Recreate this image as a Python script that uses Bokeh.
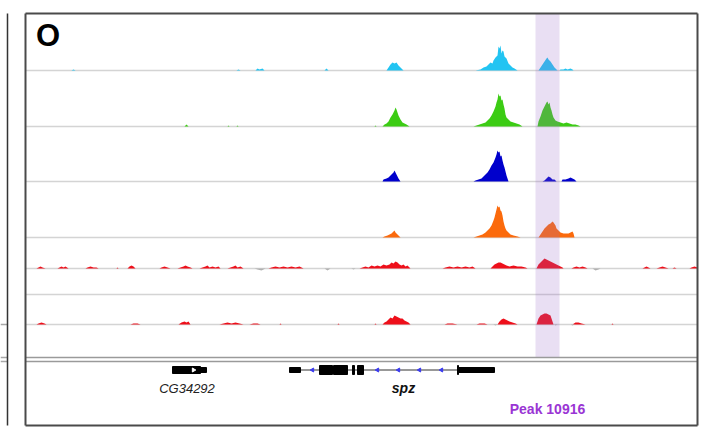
from bokeh.plotting import figure
from bokeh.models import Range1d
from bokeh.core.properties import value
from bokeh.embed import file_html
from bokeh.resources import INLINE

# ---------------- data (genomic bins of ~50 bp, 0..672) ----------------
track_colors = ["#22c4f2", "#3ccc14", "#0000cc", "#fb6a0c", "#ee0f1a", "#ee0f1a"]

cyan_signal = [
    (46, 0), (48, 1), (50, 0),
    (211, 0), (213, 1), (215, 0),
    (230, 0), (232, 2), (234, 1), (237, 2), (239, 0),
    (299, 0), (301, 2), (303, 0),
    (361, 0), (363, 3), (365, 6), (367, 8), (369, 7), (371, 8), (373, 5), (375, 3), (377, 1), (378, 0),
    (450, 0), (455, 1), (458, 3), (461, 4), (463, 6), (465, 8), (467, 7), (468, 10), (470, 13), (472, 15),
    (473, 24), (474, 22), (475, 25), (476, 17), (477, 20), (478, 19), (479, 14), (481, 12), (483, 7),
    (485, 5), (487, 3), (489, 2), (492, 0),
    (513, 0), (515, 3), (517, 6), (519, 9), (521, 12), (522, 13), (523, 11), (525, 9), (527, 6),
    (529, 3), (531, 1), (532, 0),
    (534, 0), (535, 1), (538, 1), (540, 2), (542, 1), (545, 2), (547, 1), (548, 0),
]

green_signal = [
    (159, 0), (161, 2), (163, 0),
    (202, 0), (203, 1), (204, 0),
    (211, 0), (212, 1), (213, 0),
    (349, 0), (350, 1), (351, 0),
    (357, 0), (359, 2), (361, 3), (363, 5), (365, 9), (367, 12), (368, 14), (369, 16), (370, 19),
    (371, 17), (372, 14), (373, 11), (375, 7), (377, 4), (379, 3), (381, 2), (384, 0),
    (448, 0), (451, 1), (454, 2), (457, 3), (460, 4), (462, 6), (464, 8), (466, 11), (468, 15), (470, 20),
    (471, 24), (472, 27), (473, 33), (474, 30), (475, 31), (476, 26), (477, 27), (478, 22), (479, 18),
    (480, 12), (481, 9), (483, 7), (485, 5), (488, 4), (491, 3), (494, 2), (497, 0),
    (512, 0), (513, 5), (515, 10), (517, 16), (519, 20), (520, 22), (521, 24), (522, 25), (523, 22),
    (524, 24), (525, 19), (526, 16), (527, 12), (528, 9), (530, 6), (532, 5), (535, 4), (538, 3),
    (541, 4), (544, 3), (547, 2), (550, 2), (553, 1), (555, 0),
]

blue_signal = [
    (357, 0), (358, 2), (361, 3), (363, 4), (365, 6), (367, 8), (368, 9), (369, 11), (370, 9),
    (371, 7), (373, 3), (375, 0),
    (448, 0), (450, 1), (453, 2), (456, 3), (458, 5), (460, 7), (462, 9), (464, 12), (466, 16),
    (468, 19), (470, 24), (471, 27), (472, 31), (473, 29), (474, 30), (475, 25), (476, 26), (477, 21),
    (478, 17), (479, 14), (480, 10), (481, 6), (482, 3), (483, 0),
    (517, 0), (519, 1), (521, 3), (523, 5), (525, 4), (527, 2), (529, 2), (531, 0),
    (536, 0), (537, 2), (540, 2), (543, 3), (545, 4), (547, 3), (549, 2), (551, 0),
]

orange_signal = [
    (357, 0), (359, 1), (362, 2), (364, 3), (366, 4), (368, 6), (369, 7), (370, 5), (372, 3), (374, 1), (375, 0),
    (448, 0), (451, 1), (454, 2), (457, 3), (460, 5), (462, 7), (464, 9), (466, 12), (468, 17), (469, 20),
    (470, 24), (471, 28), (472, 32), (473, 30), (474, 31), (475, 27), (476, 26), (477, 22), (478, 16),
    (479, 12), (480, 9), (481, 7), (483, 5), (485, 3), (488, 2), (492, 1), (495, 0),
    (513, 0), (515, 3), (517, 6), (519, 9), (521, 11), (523, 13), (525, 14), (527, 16), (528, 15),
    (530, 12), (531, 9), (533, 7), (535, 5), (538, 4), (541, 4), (543, 4), (545, 5), (547, 6), (548, 4), (549, 0),
]

red1_signal = [
    (11, 0), (13, 1), (15, 2), (17, 1), (20, 0),
    (32, 0), (34, 1), (36, 2), (38, 1), (40, 2), (43, 0),
    (60, 0), (62, 1), (65, 2), (68, 1), (71, 1), (73, 0),
    (91, 0), (92, 1), (93, 0),
    (102, 0), (104, 2), (106, 3), (108, 2), (110, 0),
    (134, 0), (136, 1), (139, 2), (142, 1), (145, 0),
    (152, 0), (155, 1), (158, 2), (160, 3), (162, 2), (165, 1), (167, 0),
    (174, 0), (177, 1), (180, 2), (182, 3), (184, 1), (187, 2), (190, 1), (193, 2), (195, 0),
    (202, 0), (205, 1), (208, 2), (210, 3), (212, 1), (215, 2), (218, 0),
    (243, 0), (246, 1), (250, 2), (254, 1), (258, 2), (262, 1), (266, 2), (270, 1), (274, 2), (278, 0),
    (334, 0), (337, 1), (340, 2), (343, 1), (346, 3), (349, 2), (352, 3), (355, 2), (358, 4), (361, 3),
    (364, 4), (366, 6), (368, 5), (370, 7), (372, 6), (374, 4), (376, 3), (378, 4), (380, 2), (382, 3), (385, 0),
    (417, 0), (420, 1), (424, 2), (428, 1), (432, 2), (436, 1), (440, 2), (444, 1), (447, 2), (450, 0),
    (465, 0), (467, 2), (469, 4), (471, 5), (473, 6), (475, 6), (477, 5), (479, 4), (481, 3), (484, 2),
    (488, 3), (492, 2), (496, 2), (500, 1), (502, 0),
    (511, 0), (513, 4), (515, 6), (517, 8), (519, 10), (521, 9), (523, 8), (525, 7), (527, 6), (529, 5),
    (531, 4), (533, 3), (535, 2), (537, 1), (538, 0),
    (546, 0), (548, 1), (551, 2), (554, 1), (557, 2), (560, 1), (562, 0),
    (617, 0), (619, 1), (621, 2), (623, 1), (625, 0),
    (631, 0), (634, 1), (637, 2), (640, 1), (643, 0),
    (647, 0), (649, 1), (651, 0),
    (664, 0), (666, 1), (669, 2), (672, 1),
]
red1_negative = [(229, 0), (232, -1), (236, -2), (240, 0), (299, 0), (302, -2), (305, 0),
                 (326, 0), (328, -1), (330, 0), (567, 0), (570, -2), (573, -1), (575, 0)]

red2_signal = [
    (11, 0), (13, 1), (16, 2), (19, 1), (21, 0),
    (105, 0), (108, 1), (112, 1), (115, 0),
    (153, 0), (156, 2), (159, 3), (161, 2), (163, 3), (165, 0),
    (194, 0), (198, 1), (202, 2), (206, 1), (210, 2), (214, 1), (218, 0),
    (224, 0), (228, 1), (232, 1), (235, 0),
    (254, 0), (255, 1), (256, 0),
    (312, 0), (313, 1), (314, 0),
    (349, 0), (350, 1), (351, 0),
    (357, 0), (359, 2), (361, 3), (363, 5), (365, 7), (367, 6), (369, 9), (371, 8), (373, 7), (375, 6),
    (377, 6), (379, 4), (381, 3), (383, 2), (385, 0),
    (419, 0), (422, 1), (427, 1), (432, 0),
    (451, 0), (454, 1), (459, 1), (462, 0),
    (472, 0), (474, 3), (476, 5), (478, 6), (480, 5), (482, 4), (484, 3), (487, 2), (490, 1), (492, 0),
    (511, 0), (513, 6), (515, 9), (517, 10), (519, 11), (521, 11), (523, 10), (525, 9), (527, 3), (528, 0),
    (547, 0), (550, 2), (553, 2), (556, 1), (560, 0),
    (586, 0), (587, 1), (588, 0),
]
red2_negative = [(468, 0), (470, -1), (472, 0), (529, 0), (530, -1), (532, 0), (545, 0), (547, -1), (549, 0)]

peak_region = (510, 534)
peak_label = "Peak 10916"
panel_label = "O"

# gene models: (start, end) in bins
cg34292_exons = [(147, 175)]
cg34292_utr = [(175, 181)]
spz_utr = [(264, 275), (433, 469)]
spz_exons = [(294, 307), (308, 322), (327, 329), (332, 338), (432, 433)]
spz_intron = (275, 433)
spz_strand_marks = [287, 352, 373, 394, 416]
gene_names = ["CG34292", "spz"]
gene_label_pos = [161.5, 378]

# ---------------- layout (screen rows) ----------------
baselines = [70, 126, 181, 237, 268, 324]
separators = [70, 126, 181, 237, 268, 294, 324]
PANEL_TOP, PANEL_BOTTOM, TRACK_BOTTOM = 13, 425, 357
GENE_Y = 369.5
X0, X1 = 0, 672
H = 427

p = figure(width=706, height=H, x_range=Range1d(-25, 681), y_range=Range1d(H, 0),
           output_backend="svg", toolbar_location=None, min_border=0,
           x_axis_location=None, y_axis_location=None)
p.grid.visible = False
p.outline_line_color = None
p.background_fill_color = "white"

# separator lines
p.multi_line(xs=[[X0, X1] for _ in separators], ys=[[s, s] for s in separators],
             line_color="#d4d4d4", line_width=1.5)

# signal tracks, each with its own value range
tracks = [cyan_signal, green_signal, blue_signal, orange_signal, red1_signal, red2_signal]
negs = [None, None, None, None, red1_negative, red2_negative]
for i, (sig, neg, b, col) in enumerate(zip(tracks, negs, baselines, track_colors)):
    name = f"t{i}"
    p.extra_y_ranges[name] = Range1d(start=b - H, end=b)
    xs = [a for a, _ in sig]
    ys = [v for _, v in sig]
    p.varea(x=xs, y1=[0] * len(xs), y2=ys, fill_color=col, y_range_name=name)
    if neg:
        nx = [a for a, _ in neg]
        ny = [v for _, v in neg]
        p.varea(x=nx, y1=[0] * len(nx), y2=ny, fill_color="#b0b0b0", y_range_name=name)

# highlight band
p.quad(left=[peak_region[0]], right=[peak_region[1]], top=[PANEL_TOP], bottom=[TRACK_BOTTOM],
       fill_color="#9a6fc8", fill_alpha=0.22, line_alpha=0)

# double separator above gene track
p.multi_line(xs=[[X0, X1], [X0, X1]], ys=[[357, 357], [361, 361]], line_color="#9a9a9a", line_width=1.5)
p.multi_line(xs=[[-25, -18], [-25, -18], [-25, -18]], ys=[[324, 324], [357, 357], [361, 361]],
             line_color="#a8a8a8", line_width=1.5)

# gene models
p.quad(left=[a for a, _ in cg34292_exons], right=[b for _, b in cg34292_exons],
       top=GENE_Y - 3.5, bottom=GENE_Y + 3.5, fill_color="black", line_color="black")
p.quad(left=[a for a, _ in cg34292_utr], right=[b for _, b in cg34292_utr],
       top=GENE_Y - 2.5, bottom=GENE_Y + 2.5, fill_color="black", line_color="black")
p.scatter(x=[168], y=[GENE_Y], marker="triangle", size=4, angle=-1.5708,
          fill_color="white", line_color="white")
p.segment(x0=[spz_intron[0]], x1=[spz_intron[1]], y0=[GENE_Y], y1=[GENE_Y], line_color="#333333", line_width=1)
p.quad(left=[a for a, _ in spz_utr], right=[b for _, b in spz_utr],
       top=GENE_Y - 2.5, bottom=GENE_Y + 2.5, fill_color="black", line_color="black")
p.quad(left=[a for a, _ in spz_exons], right=[b for _, b in spz_exons],
       top=GENE_Y - 4.5, bottom=GENE_Y + 4.5, fill_color="black", line_color="black")
p.scatter(x=spz_strand_marks, y=[GENE_Y] * len(spz_strand_marks), marker="triangle", size=4,
          angle=1.5708, fill_color="#3b3bf0", line_color="#3b3bf0")

# labels
p.text(x=[gene_label_pos[0]], y=[388], text=[gene_names[0]], text_font=value("Liberation Sans"),
       text_font_size="13px", text_font_style="italic", text_color="#222222",
       text_align="center", text_baseline="middle")
p.text(x=[gene_label_pos[1]], y=[387], text=[gene_names[1]], text_font=value("Liberation Sans"),
       text_font_size="14px", text_font_style="bold italic", text_color="#111111",
       text_align="center", text_baseline="middle")
p.text(x=[(peak_region[0] + peak_region[1]) / 2], y=[408.5], text=[peak_label],
       text_font=value("Liberation Sans"), text_font_size="14px", text_font_style="bold",
       text_color="#9a35d4", text_align="center", text_baseline="middle")
p.text(x=[22.5], y=[34.5], text=[panel_label], text_font=value("Liberation Sans"),
       text_font_size="31px", text_font_style="bold", text_color="black",
       text_align="center", text_baseline="middle")

# panel borders
p.multi_line(xs=[[X0, X1], [X0, X1], [X0, X0], [X1, X1]],
             ys=[[PANEL_TOP, PANEL_TOP], [PANEL_BOTTOM, PANEL_BOTTOM], [PANEL_TOP, PANEL_BOTTOM], [PANEL_TOP, PANEL_BOTTOM]],
             line_color="#4a4a4a", line_width=2)
# edge of the neighbouring panel
p.segment(x0=[-18], x1=[-18], y0=[PANEL_TOP], y1=[PANEL_BOTTOM], line_color="#333333", line_width=1.5)

open("out.html", "w").write(file_html(p, INLINE))
